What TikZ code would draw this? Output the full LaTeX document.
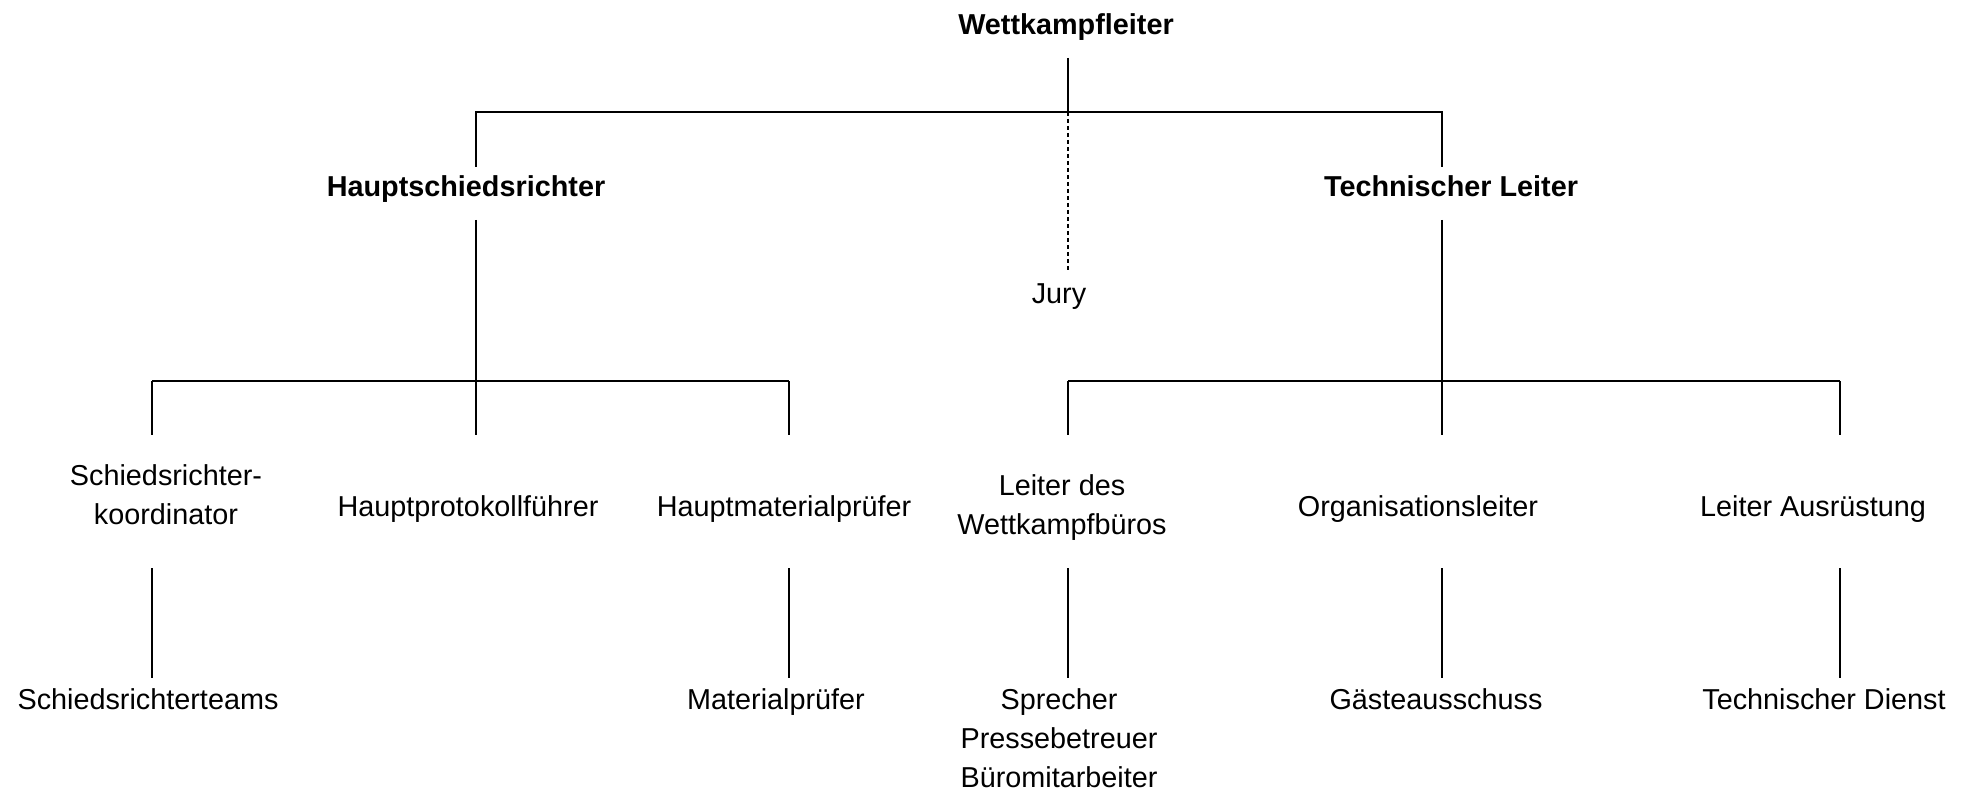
\documentclass[tikz,border=0pt]{standalone}
\usepackage{fontspec}
\setmainfont{Liberation Sans}

\tikzset{
    lbl/.style={anchor=base, align=center, inner sep=0pt, font=\fontsize{14.4pt}{19.5pt}\selectfont},
    boss/.style={lbl, font=\fontsize{14.4pt}{19.5pt}\selectfont\bfseries},
    conn/.style={line width=1pt},
    juryline/.style={line width=1pt, dash pattern=on 2pt off 1.5pt}
}

\begin{document}
\begin{tikzpicture}[x=0.5pt,y=-0.5pt]
            \useasboundingbox (0,0) rectangle (1975,791);
            % Leitung
            \node[boss] (wkl) at (1066,35) {Wettkampfleiter};
            \node[boss] (hsr) at (466,197) {Hauptschiedsrichter};
            \node[boss] (tl) at (1451,197) {Technischer Leiter};
            \node[lbl] (jury) at (1059,303) {Jury};
            % zweite Ebene (Basislinie der letzten Zeile)
            \node[lbl] (srk) at (166,524) {Schiedsrichter-\\koordinator};
            \node[lbl] (hpf) at (468,516) {Hauptprotokollführer};
            \node[lbl] (hmp) at (784,516) {Hauptmaterialprüfer};
            \node[lbl] (lwb) at (1062,534) {Leiter des\\Wettkampfbüros};
            \node[lbl] (orl) at (1418,516) {Organisationsleiter};
            \node[lbl] (lau) at (1813,516) {Leiter Ausrüstung};
            % dritte Ebene
            \node[lbl] (srt) at (148,709) {Schiedsrichterteams};
            \node[lbl] (mp) at (776,709) {Materialprüfer};
            \node[lbl] (spr) at (1059,787) {Sprecher\\Pressebetreuer\\Büromitarbeiter};
            \node[lbl] (gae) at (1436,709) {Gästeausschuss};
            \node[lbl] (td) at (1824,709) {Technischer Dienst};
            % Anschlusspunkte
            \coordinate (wklB) at (1068,58);
            \coordinate (barL) at (476,112);
            \coordinate (barM) at (1068,112);
            \coordinate (barR) at (1442,112);
            \coordinate (juryT) at (1068,272);
            \coordinate (hsrT) at (476,167);
            \coordinate (hsrB) at (476,220);
            \coordinate (tlT) at (1442,167);
            \coordinate (tlB) at (1442,220);
            \coordinate (subL) at (476,381);
            \coordinate (subR) at (1442,381);
            \foreach \n/\x in {srk/152,hpf/476,hmp/789,lwb/1068,orl/1442,lau/1840}{
                \coordinate (\n A) at (\x,381);
                \coordinate (\n T) at (\x,435);
                \coordinate (\n B) at (\x,568);
            }
            \foreach \n/\x in {srt/152,mp/789,spr/1068,gae/1442,td/1840}
                \coordinate (\n T) at (\x,678);
            % Linien
            \draw[conn] (wklB) -- (barM);
            \draw[conn] (hsrT) -- (barL) -- (barR) -- (tlT);
            \draw[juryline] (barM) -- (juryT);
            \draw[conn] (hsrB) -- (subL);
            \draw[conn] (tlB) -- (subR);
            \draw[conn] (srkA) -- (hmpA);
            \draw[conn] (lwbA) -- (lauA);
            \foreach \n in {srk,hpf,hmp,lwb,orl,lau}
                \draw[conn] (\n A) -- (\n T);
            \draw[conn] (srkB) -- (srtT);
            \draw[conn] (hmpB) -- (mpT);
            \draw[conn] (lwbB) -- (sprT);
            \draw[conn] (orlB) -- (gaeT);
            \draw[conn] (lauB) -- (tdT);
        \end{tikzpicture}
\end{document}
